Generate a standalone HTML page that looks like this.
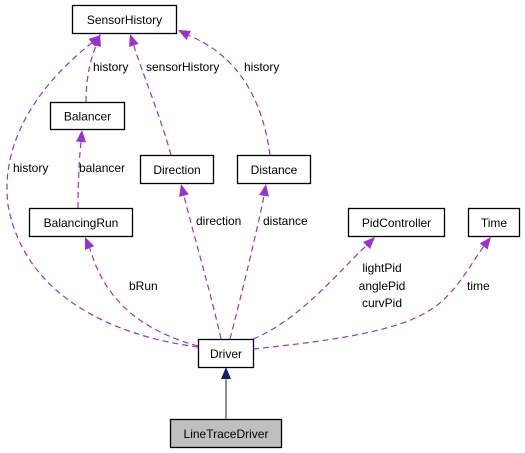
<!DOCTYPE html>
<html><head><meta charset="utf-8"><style>
html,body{margin:0;padding:0;background:#fff;}
svg{display:block;}
text{font-family:"Liberation Sans",Arial,sans-serif;font-size:12px;fill:#000;}
</style></head><body>
<svg id="g" width="525" height="453" viewBox="0 0 525 453">
<g id="edges"></g>
<g id="nodes"></g>
</svg>
<script>
const nodeNames=["SensorHistory","Balancer","Direction","Distance","BalancingRun","PidController","Time","Driver","LineTraceDriver"];
const nodeBoxes=[[72,5,104,28],[50,102,74,27],[140,155,73,28],[237,155,73,28],[29,208,103,28],[348,208,96,28],[468,208,51,28],[198,339,55,28],[170,419,111,28]];
const edgePaths=[
 "M198,347 C120,337 25,300 8,205 C0,140 40,85 88,46",
 "M86,102 C86,80 90,60 96,46",
 "M171,155 C160,115 143,75 134,46",
 "M270,155 C262,95 235,55 190,36",
 "M78,208 C78,185 79,160 81,142",
 "M198,346 C140,330 105,300 90,249",
 "M221,339 C210,290 195,240 184,196",
 "M230,339 C240,300 255,240 264,196",
 "M253,339 C300,320 340,270 366,246",
 "M253,349 C340,340 400,330 430,310 C455,295 470,265 484,246",
 "M226,419 L226,380"
];
const edgeTips=[[101,35],[100,34],[130,34],[178,30],[82,130],[85,237],[181,184],[266,184],[375,237],[491,237],[226,367]];
const edgeLabels=[["history",13,172,"start"],["history",93,71,"start"],["sensorHistory",146,71,"start"],["history",244,71,"start"],["balancer",79,172,"start"],["bRun",129,290,"start"],["direction",196,225,"start"],["distance",263,225,"start"],["lightPid",382,272,"middle"],["anglePid",382,290,"middle"],["curvPid",382,307,"middle"],["time",467,290,"start"]];
const ns="http://www.w3.org/2000/svg";
const E=document.getElementById('edges'),N=document.getElementById('nodes');
edgePaths.forEach((d,i)=>{
 const solid=i===edgePaths.length-1;
 const p=document.createElementNS(ns,'path');
 
 
 p.setAttribute('d',d);p.setAttribute('fill','none');
 p.setAttribute('stroke',solid?'#6464a8':'#9a32cd');p.setAttribute('stroke-width',solid?'1.5':'1.2');
 if(!solid)p.setAttribute('stroke-dasharray','6,4');
 E.appendChild(p);
 const nums=d.match(/-?[\d.]+/g).map(Number);
 const sx=nums[nums.length-2],sy=nums[nums.length-1];
 const [tx,ty]=edgeTips[i];
 const dx=tx-sx,dy=ty-sy,L=Math.hypot(dx,dy),ux=dx/L,uy=dy/L;
 const bx=tx-ux*12,by=ty-uy*12,w=5;
 const t=document.createElementNS(ns,'polygon');
 
 
 t.setAttribute('points',`${tx},${ty} ${bx-uy*w},${by+ux*w} ${bx+uy*w},${by-ux*w}`);
 t.setAttribute('fill',solid?'#191970':'#9a32cd');
 E.appendChild(t);
 const l=document.createElementNS(ns,'line');
 
 
 l.setAttribute('x1',sx);l.setAttribute('y1',sy);l.setAttribute('x2',bx);l.setAttribute('y2',by);
 l.setAttribute('stroke',solid?'#6464a8':'#9a32cd');l.setAttribute('stroke-width','1.2');
 if(!solid)l.setAttribute('stroke-dasharray','6,4');
 E.appendChild(l);
});
edgeLabels.forEach(([s,x,y,a])=>{
 const t=document.createElementNS(ns,'text');
 
 
 t.setAttribute('x',x);t.setAttribute('y',y);t.setAttribute('text-anchor',a);
 t.textContent=s;E.appendChild(t);
});
nodeNames.forEach((n,i)=>{
 const [x,y,w,h]=nodeBoxes[i];
 const g=document.createElementNS(ns,'g');
 
 
 const r=document.createElementNS(ns,'rect');
 
 
 r.setAttribute('x',x+0.5);r.setAttribute('y',y+0.5);r.setAttribute('width',w);r.setAttribute('height',h);
 r.setAttribute('fill',n==='LineTraceDriver'?'#bfbfbf':'#fff');r.setAttribute('stroke','#000');r.setAttribute('stroke-width','1.3');
 g.appendChild(r);
 const t=document.createElementNS(ns,'text');
 
 
 t.setAttribute('x',x+w/2+0.5);t.setAttribute('y',y+h/2+5);t.setAttribute('text-anchor','middle');
 t.textContent=n;g.appendChild(t);
 N.appendChild(g);
});
</script>
</body></html>
